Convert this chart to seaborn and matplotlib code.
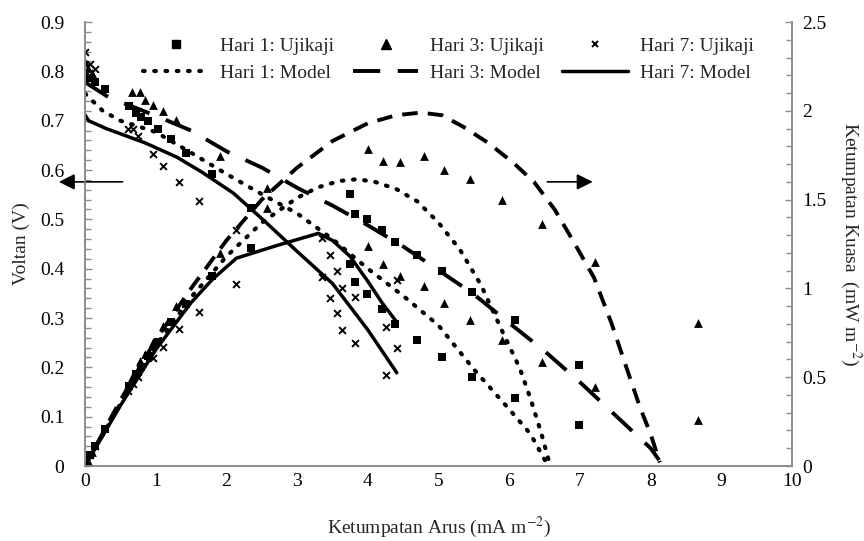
import matplotlib
matplotlib.use("Agg")
import matplotlib.pyplot as plt
from matplotlib.lines import Line2D
from matplotlib.ticker import MultipleLocator
import seaborn as sns

# ---- experimental points (current mA m-2, voltage V, power mW m-2) ----
i_h1 = [0.00, 0.07, 0.14, 0.28, 0.62, 0.72, 0.79, 0.89, 1.03, 1.22, 1.43, 1.80, 2.35,
        3.75, 3.82, 3.99, 4.20, 4.38, 4.70, 5.05, 5.47, 6.08, 6.99]
v_h1 = [0.789, 0.787, 0.778, 0.764, 0.730, 0.716, 0.707, 0.699, 0.683, 0.663, 0.634, 0.592, 0.523,
        0.410, 0.373, 0.349, 0.318, 0.288, 0.255, 0.221, 0.180, 0.138, 0.083]
p_h1 = [0.00, 0.06, 0.11, 0.21, 0.45, 0.52, 0.56, 0.62, 0.70, 0.81, 0.91, 1.07, 1.23,
        1.53, 1.42, 1.39, 1.33, 1.26, 1.19, 1.10, 0.98, 0.82, 0.57]

i_h3 = [0.00, 0.04, 0.10, 0.66, 0.78, 0.85, 0.96, 1.10, 1.29, 1.91, 2.57,
        4.00, 4.22, 4.46, 4.79, 5.08, 5.45, 5.90, 6.46, 7.22, 8.67]
v_h3 = [0.819, 0.807, 0.797, 0.758, 0.758, 0.742, 0.732, 0.720, 0.701, 0.628, 0.563,
        0.446, 0.410, 0.385, 0.365, 0.330, 0.296, 0.255, 0.210, 0.160, 0.093]
p_h3 = [0.00, 0.03, 0.08, 0.50, 0.59, 0.63, 0.70, 0.79, 0.90, 1.20, 1.45,
        1.785, 1.72, 1.71, 1.745, 1.667, 1.616, 1.50, 1.36, 1.15, 0.805]

i_h7 = [0.00, 0.07, 0.14, 0.61, 0.68, 0.75, 0.96, 1.10, 1.33, 1.61, 2.14,
        3.35, 3.47, 3.56, 3.64, 3.82, 4.26, 4.41]
v_h7 = [0.840, 0.815, 0.805, 0.683, 0.683, 0.669, 0.632, 0.608, 0.576, 0.537, 0.479,
        0.383, 0.341, 0.310, 0.276, 0.249, 0.184, 0.239]
p_h7 = [0.00, 0.06, 0.11, 0.42, 0.46, 0.50, 0.61, 0.67, 0.77, 0.87, 1.025,
        1.284, 1.19, 1.10, 1.00, 0.95, 0.78, 1.05]

# ---- model curves ----
mi_h1_v = [0, 0.25, 0.5, 1.0, 1.5, 2.0, 2.5, 3.0, 3.5, 4.0, 4.5, 5.0, 5.5, 6.0, 6.3, 6.55]
mv_h1 = [0.755, 0.72, 0.70, 0.677, 0.635, 0.592, 0.551, 0.512, 0.46, 0.40, 0.345, 0.285,
         0.196, 0.115, 0.065, 0.0]
mi_h1_p = [0, 0.5, 1.0, 1.5, 2.0, 2.5, 3.0, 3.3, 3.6, 3.85, 4.1, 4.4, 4.7, 5.0, 5.3,
           5.6, 5.9, 6.15, 6.3, 6.45, 6.58]
mp_h1 = [0, 0.35, 0.677, 0.95, 1.18, 1.37, 1.51, 1.57, 1.605, 1.615, 1.60, 1.56, 1.49,
         1.37, 1.22, 1.02, 0.76, 0.55, 0.38, 0.19, 0.0]

mi_h3_v = [0, 0.35, 0.61, 1.0, 1.5, 2.0, 2.5, 3.0, 3.5, 4.0, 4.5, 5.0, 5.5, 6.0, 6.5,
           7.0, 7.5, 8.0, 8.12]
mv_h3 = [0.778, 0.746, 0.732, 0.71, 0.68, 0.638, 0.605, 0.564, 0.528, 0.488, 0.445, 0.397,
         0.348, 0.29, 0.233, 0.17, 0.103, 0.036, 0.012]
mi_h3_p = [0, 0.5, 1.0, 1.5, 2.0, 2.5, 3.0, 3.5, 4.0, 4.4, 4.75, 5.05, 5.35, 5.7, 6.05,
           6.35, 6.65, 6.9, 7.2, 7.45, 7.67, 7.85, 8.0, 8.13]
mp_h3 = [0, 0.37, 0.71, 1.0, 1.27, 1.50, 1.68, 1.83, 1.93, 1.975, 1.99, 1.975, 1.91, 1.82,
         1.71, 1.60, 1.44, 1.27, 1.06, 0.80, 0.54, 0.33, 0.18, 0.02]

mi_h7_v = [0, 0.05, 0.3, 0.85, 1.3, 1.65, 2.1, 2.55, 3.0, 3.5, 4.0, 4.41]
mv_h7 = [0.712, 0.70, 0.684, 0.655, 0.626, 0.596, 0.553, 0.495, 0.435, 0.37, 0.276, 0.189]
mi_h7_p = [0, 0.5, 1.0, 1.5, 1.8, 2.14, 2.7, 3.3, 3.5, 3.75, 4.0, 4.2, 4.41]
mp_h7 = [0, 0.34, 0.655, 0.92, 1.05, 1.17, 1.24, 1.31, 1.27, 1.18, 1.04, 0.92, 0.81]

sns.set_theme(style="white")
plt.rcParams["font.family"] = ["Liberation Serif", "DejaVu Serif"]
plt.rcParams["mathtext.fontset"] = "stix"

fig = plt.figure(figsize=(8.64, 5.41), dpi=100)
ax = fig.add_axes([0.0984, 0.1386, 0.8183, 0.8207])
ax2 = ax.twinx()

K = "black"
FS = 14
dot_ls = (0, (0.4, 2.3))
dash_v = (0, (7, 4.5))
dash_p = (0, (4, 2.6))

# voltage (left axis)
sns.lineplot(x=mi_h1_v, y=mv_h1, ax=ax, color=K, lw=3, linestyle=dot_ls,
             dash_capstyle="round", sort=False)
sns.lineplot(x=mi_h3_v, y=mv_h3, ax=ax, color=K, lw=2.8, linestyle=dash_v, sort=False)
sns.lineplot(x=mi_h7_v, y=mv_h7, ax=ax, color=K, lw=2.5, sort=False)
sns.scatterplot(x=i_h1, y=v_h1, ax=ax, marker="s", s=38, color=K, edgecolor=K, linewidth=0)
sns.scatterplot(x=i_h3, y=v_h3, ax=ax, marker="^", s=40, color=K, edgecolor=K, linewidth=0)
sns.scatterplot(x=i_h7, y=v_h7, ax=ax, marker="x", s=24, color=K, linewidth=1.4)

# power (right axis)
sns.lineplot(x=mi_h1_p, y=mp_h1, ax=ax2, color=K, lw=3, linestyle=dot_ls,
             dash_capstyle="round", sort=False)
sns.lineplot(x=mi_h3_p, y=mp_h3, ax=ax2, color=K, lw=2.8, linestyle=dash_p, sort=False)
sns.lineplot(x=mi_h7_p, y=mp_h7, ax=ax2, color=K, lw=2.5, sort=False)
sns.scatterplot(x=i_h1, y=p_h1, ax=ax2, marker="s", s=38, color=K, edgecolor=K, linewidth=0)
sns.scatterplot(x=i_h3, y=p_h3, ax=ax2, marker="^", s=40, color=K, edgecolor=K, linewidth=0)
sns.scatterplot(x=i_h7, y=p_h7, ax=ax2, marker="x", s=24, color=K, linewidth=1.4)

ax.set_xlim(0, 10)
ax.set_ylim(0, 0.9)
ax2.set_ylim(0, 2.5)

grey = "#8c8c8c"
for a in (ax, ax2):
    for side in ("left", "right", "bottom"):
        a.spines[side].set_color(grey)
        a.spines[side].set_linewidth(1.2)
    a.spines["top"].set_visible(False)
    a.tick_params(which="both", direction="in", color=grey, labelsize=FS,
                  labelcolor="black", width=1)
    a.tick_params(which="major", length=5)
    a.tick_params(which="minor", length=4)

ax.xaxis.set_major_locator(MultipleLocator(1))
ax.xaxis.set_minor_locator(MultipleLocator(0.2))
ax.yaxis.set_major_locator(MultipleLocator(0.1))
ax.yaxis.set_minor_locator(MultipleLocator(0.02))
ax2.yaxis.set_major_locator(MultipleLocator(0.5))
ax2.yaxis.set_minor_locator(MultipleLocator(0.1))
ax.set_xticklabels([f"{t:g}" for t in ax.get_xticks()])
ax.set_yticklabels([f"{t:g}" for t in ax.get_yticks()])
ax2.set_yticklabels([f"{t:g}" for t in ax2.get_yticks()])
ax.tick_params(axis="x", pad=5)
ax.tick_params(axis="y", pad=15)
ax2.tick_params(axis="y", pad=7)

ax.set_xlabel("Ketumpatan Arus (mA m$^{-2}$)", fontsize=FS, labelpad=18)
ax.set_ylabel("Voltan (V)", fontsize=FS, labelpad=7)
ax2.set_ylabel("Ketumpatan Kuasa  (mW m$^{-2}$)", fontsize=FS, rotation=270, labelpad=27)

# direction arrows
arrow = dict(arrowstyle="-|>", color=K, lw=1.2, mutation_scale=24)
ax.annotate("", xy=(-0.41, 0.576), xytext=(0.57, 0.576), arrowprops=arrow,
            annotation_clip=False)
ax.annotate("", xy=(7.22, 0.576), xytext=(6.5, 0.576), arrowprops=arrow)

handles = [
    Line2D([], [], ls="none", marker="s", ms=6, color=K),
    Line2D([], [], color=K, lw=3, ls=dot_ls, dash_capstyle="round"),
    Line2D([], [], ls="none", marker="^", ms=6.5, color=K),
    Line2D([], [], color=K, lw=2.8, ls=dash_v),
    Line2D([], [], ls="none", marker="x", ms=5, mew=1.4, color=K),
    Line2D([], [], color=K, lw=2.5),
]
labels = ["Hari 1: Ujikaji", "Hari 1: Model", "Hari 3: Ujikaji", "Hari 3: Model",
          "Hari 7: Ujikaji", "Hari 7: Model"]
ax2.legend(handles, labels, ncol=3, loc="upper center", bbox_to_anchor=(0.514, 0.966),
           frameon=False, fontsize=FS, handlelength=3.35, handletextpad=0.62,
           columnspacing=0.95, labelspacing=0.5, borderaxespad=0, borderpad=0)

fig.savefig("out.png", dpi=100)
